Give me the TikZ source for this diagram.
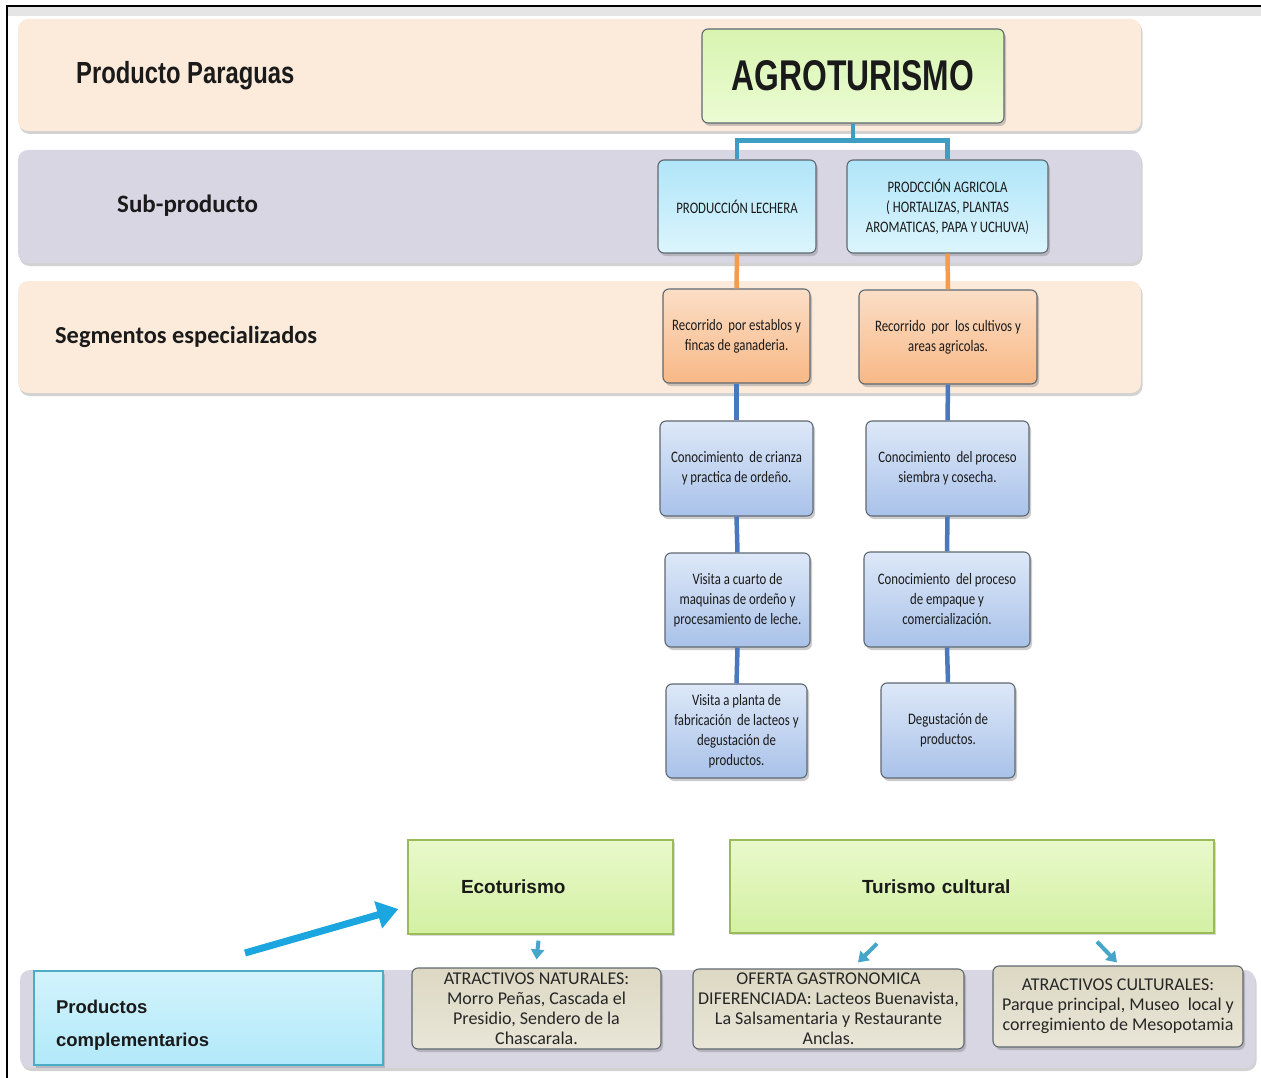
\documentclass[tikz,border=0pt]{standalone}
\usepackage{fontspec}
\setmainfont{Carlito}
\newfontfamily\narrowfont[FakeStretch=0.78]{Liberation Sans}
\newfontfamily\agrofont[FakeStretch=0.74]{Liberation Sans}
\newfontfamily\arialfont{Liberation Sans}
\newfontfamily\boxfont[FakeStretch=0.8]{Carlito}
\usetikzlibrary{shadows,arrows.meta}
\definecolor{peach}{HTML}{FCEADB}
\definecolor{lav}{HTML}{D9D6E4}
\definecolor{txt}{HTML}{1A1A1A}
\definecolor{boxborder}{HTML}{5F6870}
\definecolor{tealc}{HTML}{3E9DC2}
\definecolor{orangec}{HTML}{F49C4E}
\definecolor{bluec}{HTML}{4A78BF}
\definecolor{arrowblue}{HTML}{1CA6E0}
\definecolor{smallarrowc}{HTML}{45A6C9}
\definecolor{greenbd}{HTML}{9BBB59}
\definecolor{pcbd}{HTML}{4BACC6}
\definecolor{agrotop}{HTML}{D8F4B0}
\definecolor{agrobot}{HTML}{ECFCD4}
\definecolor{ltbluetop}{HTML}{B0E5F8}
\definecolor{ltbluebot}{HTML}{DCF5FD}
\definecolor{orangetop}{HTML}{FBDEC6}
\definecolor{orangebot}{HTML}{F8B886}
\definecolor{steeltop}{HTML}{DDE8F8}
\definecolor{steelbot}{HTML}{A9C2E9}
\definecolor{tantop}{HTML}{DCD8C3}
\definecolor{tanbot}{HTML}{E9E6D8}
\definecolor{tantext}{HTML}{262626}
\definecolor{greentop}{HTML}{E8F9CB}
\definecolor{greenbot}{HTML}{D3F0A2}
\definecolor{pctop}{HTML}{D2F3FC}
\definecolor{pcbot}{HTML}{B2E9FA}
\begin{document}
\begin{tikzpicture}[x=1pt,y=-1pt,
  band/.style={rounded corners=10pt, fill=#1, inner sep=0pt,
    drop shadow={shadow xshift=1.5pt,shadow yshift=-3pt,opacity=0.35}},
  hbox/.style={rounded corners=6pt, draw=boxborder, line width=1.1pt, align=center,
    inner sep=2pt, text=txt, font=\boxfont\fontsize{16}{20}\selectfont,
    drop shadow={shadow xshift=2pt,shadow yshift=-3pt,opacity=0.4}},
  lightblue/.style={hbox, top color=ltbluetop, bottom color=ltbluebot},
  orangebox/.style={hbox, top color=orangetop, bottom color=orangebot},
  steelbox/.style={hbox, top color=steeltop, bottom color=steelbot},
  tanbox/.style={hbox, top color=tantop, bottom color=tanbot,
    font=\fontsize{18}{20}\selectfont, text=tantext},
  greenbox/.style={draw=greenbd, line width=1.3pt, top color=greentop, bottom color=greenbot,
    text=txt, font=\arialfont\bfseries\fontsize{19}{22}\selectfont, align=left,
    drop shadow={shadow xshift=2pt,shadow yshift=-2pt,opacity=0.3}},
  bandlabel/.style={anchor=west, inner sep=0pt, text=txt},
  tealline/.style={draw=tealc, line width=4.5pt},
  orangeline/.style={draw=orangec, line width=4.5pt},
  blueline/.style={draw=bluec, line width=4.5pt},
  smallarr/.style={draw=smallarrowc, line width=4pt, -{Triangle[length=10pt,width=13pt]}},
  bigarr/.style={draw=arrowblue, line width=7pt, -{Triangle[length=21pt,width=27pt]}}
]
\useasboundingbox (0,0) rectangle (1261,1078);
\fill[white] (0,0) rectangle (1261,1078);
% frame
\fill[gray!20] (8,7) rectangle (1261,16);
\draw[line width=2pt] (7,1078) -- (7,6) -- (1261,6);
% bands
\node[band=peach, minimum width=1123pt, minimum height=112pt] (b1) at (579.5,75) {};
\node[band=lav, minimum width=1123pt, minimum height=113pt] (b2) at (579.5,206.5) {};
\node[band=peach, minimum width=1123pt, minimum height=112pt] (b3) at (579.5,337) {};
\node[band=lav, minimum width=1235pt, minimum height=98pt] (b4) at (637.5,1019) {};
% band labels
\node[bandlabel, font=\narrowfont\bfseries\fontsize{30.5}{34}\selectfont] (l1) at (76,76) {Producto Paraguas};
\node[bandlabel, font=\bfseries\fontsize{25}{28}\selectfont] (l2) at (117,206) {Sub-producto};
\node[bandlabel, font=\bfseries\fontsize{24.4}{28}\selectfont] (l3) at (55,337) {Segmentos especializados};
% hierarchy boxes
\node[hbox, top color=agrotop, bottom color=agrobot,
  minimum width=302pt, minimum height=94pt,
  font=\agrofont\bfseries\fontsize{43}{48}\selectfont] (agro) at (853,76) {AGROTURISMO};
\node[lightblue, minimum width=158pt, minimum height=93pt] (lech) at (737,206.5) {PRODUCCIÓN LECHERA};
\node[lightblue, minimum width=201pt, minimum height=93pt] (agri) at (947.5,206.5)
  {PRODCCIÓN AGRICOLA\\( HORTALIZAS, PLANTAS\\AROMATICAS, PAPA Y UCHUVA)};
\node[orangebox, minimum width=147pt, minimum height=94pt] (rec1) at (736.5,336)
  {Recorrido\ \ por establos y\\fincas de ganaderia.};
\node[orangebox, minimum width=178pt, minimum height=94pt] (rec2) at (948,337)
  {Recorrido\ \ por\ \ los cultivos y\\areas agricolas.};
\node[steelbox, minimum width=153pt, minimum height=95pt] (con1) at (736.5,468.5)
  {Conocimiento\ \ de crianza\\y practica de ordeño.};
\node[steelbox, minimum width=163pt, minimum height=95pt] (con2) at (947.5,468.5)
  {Conocimiento\ \ del proceso\\siembra y cosecha.};
\node[steelbox, minimum width=145pt, minimum height=94pt] (vis1) at (737.5,600)
  {Visita a cuarto de\\maquinas de ordeño y\\procesamiento de leche.};
\node[steelbox, minimum width=166pt, minimum height=95pt] (emp) at (947,599.5)
  {Conocimiento\ \ del proceso\\de empaque y\\comercialización.};
\node[steelbox, minimum width=141pt, minimum height=94pt] (pla) at (736.5,731)
  {Visita a planta de\\fabricación\ \ de lacteos y\\degustación de\\productos.};
\node[steelbox, minimum width=134pt, minimum height=95pt] (deg) at (948,730.5)
  {Degustación de\\productos.};
% connectors
\draw[tealline] (agro.south) -- ++(0,17) -| (lech.north);
\draw[tealline] (agro.south) ++(0,17) -| (agri.north);
\draw[orangeline] (lech.south) -- (rec1.north);
\draw[orangeline] (agri.south) -- (rec2.north);
\draw[blueline] (rec1.south) -- (con1.north);
\draw[blueline] (con1.south) -- (vis1.north);
\draw[blueline] (vis1.south) -- (pla.north);
\draw[blueline] (rec2.south) -- (con2.north);
\draw[blueline] (con2.south) -- (emp.north);
\draw[blueline] (emp.south) -- (deg.north);
% bottom part
\node[greenbox, minimum width=265pt, minimum height=94pt, text width=159pt, inner xsep=53pt] (eco) at (540.5,887) {Ecoturismo};
\node[greenbox, minimum width=484pt, minimum height=93pt, text width=220pt, inner xsep=132pt] (tur) at (972,886.5) {Turismo cultural};
\node[draw=pcbd, line width=2pt, top color=pctop, bottom color=pcbot, text=txt,
  font=\arialfont\bfseries\fontsize{18.5}{33}\selectfont, align=left,
  minimum width=349pt, minimum height=94pt, text width=305pt, inner xsep=22pt, inner ysep=0pt,
  drop shadow={shadow xshift=2pt,shadow yshift=-3pt,opacity=0.35}] (pc) at (208.5,1018)
  {\rule{0pt}{27pt}Productos\\complementarios};
\node[tanbox, minimum width=249pt, minimum height=81pt] (nat) at (536.5,1008.5)
  {ATRACTIVOS NATURALES:\\Morro Peñas, Cascada el\\Presidio, Sendero de la\\Chascarala.};
\node[tanbox, minimum width=271pt, minimum height=80pt] (gas) at (828.5,1009)
  {OFERTA GASTRONOMICA\\DIFERENCIADA: Lacteos Buenavista,\\La Salsamentaria y Restaurante\\Anclas.};
\node[tanbox, minimum width=250pt, minimum height=81pt] (cul) at (1118,1006.5)
  {ATRACTIVOS CULTURALES:\\Parque principal, Museo\ \ local y\\corregimiento de Mesopotamia};
% arrows
\coordinate (bs) at (245,953);
\draw[bigarr] (bs) -- ([xshift=-9pt,yshift=-22pt]eco.west);
\draw[smallarr] ([xshift=-2pt,yshift=-6pt]eco.south) -- ([yshift=8pt]nat.north);
\draw[smallarr] ([xshift=-95pt,yshift=-10pt]tur.south) -- ([xshift=29.5pt,yshift=6pt]gas.north);
\draw[smallarr] ([xshift=125pt,yshift=-8pt]tur.south) -- ([xshift=-1pt,yshift=3pt]cul.north);
\end{tikzpicture}
\end{document}
